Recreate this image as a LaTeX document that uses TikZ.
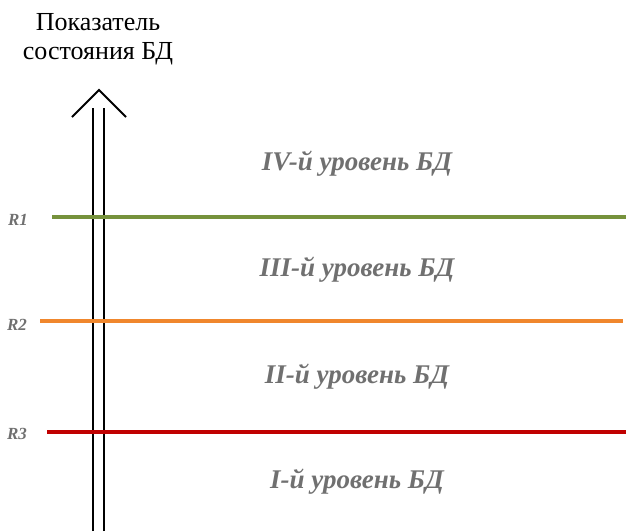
\documentclass[tikz,border=0pt]{standalone}
\usepackage{fontspec}
\setmainfont{Liberation Serif}
\newfontfamily\titlefont{Liberation Serif}
\usepackage{xcolor}
\usetikzlibrary{calc,positioning}
\definecolor{levelgray}{RGB}{112,112,112}
\definecolor{rgreen}{RGB}{118,146,60}
\definecolor{rorange}{RGB}{240,135,45}
\definecolor{rred}{RGB}{192,0,0}

\begin{document}
\begin{tikzpicture}[x=1pt,y=-1pt]
    \tikzstyle{every node}=[inner sep=0pt]
    \tikzstyle{level}=[font=\fontsize{27}{30}\selectfont\bfseries\itshape, text=levelgray]
    \tikzstyle{rlabel}=[font=\fontsize{17}{20}\selectfont\bfseries\itshape, text=levelgray]
    \tikzstyle{bound}=[line width=4pt]
    \useasboundingbox (0,0) rectangle (626,531);
    % axis
    \node[align=center, font=\titlefont\fontsize{26}{29}\selectfont] (title) at (98,39) {Показатель\\состояния БД}; %
    \coordinate (Al) at (93,531); \coordinate (Alt) at (93,108); %
    \coordinate (Ar) at (104,531); \coordinate (Art) at (104,108); %
    \coordinate (Hl) at (72,117); \coordinate (Hr) at (126,117); %
    \coordinate (Ht) at ($(Hl)!0.5!(Hr)+(0,-27)$); %
    \draw[line width=2pt] (Al) -- (Alt); %
    \draw[line width=2pt] (Ar) -- (Art); %
    \draw[line width=2pt] (Hl) -- (Ht) -- (Hr); %
    % boundaries
    \node[rlabel] (R1) at (18,220) {R1}; %
    \node[rlabel] (R2) at (17,325) {R2}; %
    \node[rlabel] (R3) at (17,434) {R3}; %
    \coordinate (B1) at (52,217); \coordinate (E1) at (626,217); %
    \coordinate (B2) at (40,321); \coordinate (E2) at (623,321); %
    \coordinate (B3) at (47,432); \coordinate (E3) at (626,432); %
    \draw[bound, rgreen] (B1) -- (E1); %
    \draw[bound, rorange] (B2) -- (E2); %
    \draw[bound, rred] (B3) -- (E3); %
    % levels
    \node[level] (L4) at (357,164) {IV-й уровень БД}; %
    \node[level] (L3) at (357,270) {III-й уровень БД}; %
    \node[level] (L2) at (357,377) {II-й уровень БД}; %
    \node[level] (L1) at (357,482) {I-й уровень БД}; %
\end{tikzpicture}
\end{document}
